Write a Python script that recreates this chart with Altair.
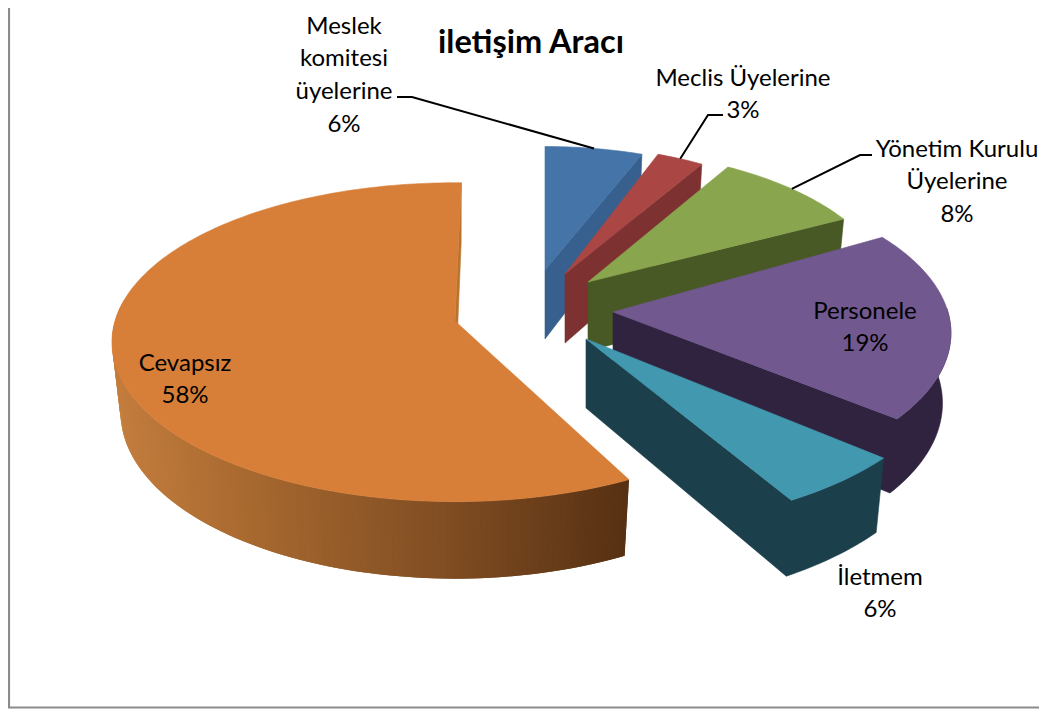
import math
import altair as alt

# ---- chart values -------------------------------------------------------
categories = ["Meslek komitesi üyelerine", "Meclis Üyelerine", "Yönetim Kurulu Üyelerine",
              "Personele", "İletmem", "Cevapsız"]
shares = [6, 3, 8, 19, 6, 58]
title_text = "iletişim Aracı"
label_lines = [["Meslek", "komitesi", "üyelerine", "6%"],
               ["Meclis Üyelerine", "3%"],
               ["Yönetim Kurulu", "Üyelerine", "8%"],
               ["Personele", "19%"],
               ["İletmem", "6%"],
               ["Cevapsız", "58%"]]

# ---- styling and layout (page pixels) -----------------------------------
top_colors = ["#4574a8", "#aa4644", "#89a54e", "#71588f", "#4298af", "#d77f39"]
side_colors = ["#37608f", "#7d3231", "#485925", "#30233f", "#1b3f4b", None]
apex = [(545, 270), (565, 274), (588, 282), (613, 312), (586, 339), (455, 321)]
stretch = [(.87, .88), (.835, .91), (.89, .94), (.985, .98), (1.06, 1.04), (1, .985)]
angle_nudge = [(0, 0), (0, 0), (-1.4, 2.3), (-2, -.6), (1.5, -1.5), (2.0, 1.2)]
label_anchor = [(344, 26.5), (743, 78.5), (957, 149.5), (865, 311.5), (880, 577.5), (185, 363.5)]
line_gap = 32.7
leader_elbows = [[(397, 97), (412, 97)], [(723, 115), (708, 115)], [(872, 155), (860, 155)]]
orange_stops = [(110, "#c47e3e"), (240, "#a96a30"), (450, "#7f4c22"), (628, "#573113")]

R, RB, K = 340, 159, 0.133
W, H = 1031, 701


def rim(i, deg):
    t = math.radians(deg)
    X, Y = math.sin(t), -math.cos(t)
    d = 1 - K * Y
    return apex[i][0] + stretch[i][0] * R * X / d, apex[i][1] + stretch[i][1] * RB * Y / d, Y


def drop(i, p):
    return apex[i][0] + (p[0] - apex[i][0]) * 0.975, p[1] + 69 + 8 * p[2]


def mix(x):
    pts = orange_stops
    x = max(pts[0][0], min(pts[-1][0], x))
    for (a, ca), (b, cb) in zip(pts, pts[1:]):
        if x <= b:
            f = (x - a) / (b - a)
            rgb = [round(int(ca[j:j + 2], 16) * (1 - f) + int(cb[j:j + 2], 16) * f) for j in (1, 3, 5)]
            return "#%02x%02x%02x" % tuple(rgb)


def poly(points, color, outline=True):
    ring = [list(p[:2]) for p in points]
    ring.append(ring[0])
    return {"type": "Feature", "geometry": {"type": "Polygon", "coordinates": [ring]},
            "properties": {"fill": color, "edge": color if outline else "transparent"}}


def line(points):
    return {"type": "Feature", "geometry": {"type": "LineString", "coordinates": [list(p) for p in points]},
            "properties": {}}


faces = []
leaders = []
start = 0.0
for i, s in enumerate(shares):
    a0, a1 = start + angle_nudge[i][0], start + s * 3.6 + angle_nudge[i][1]
    start += s * 3.6
    n = max(4, int(a1 - a0))
    angles = [a0 + (a1 - a0) * j / n for j in range(n + 1)]
    pts = [rim(i, a) for a in angles]
    ap = apex[i]
    ap_d = (ap[0], ap[1] + 69)
    side = side_colors[i]
    if i < 3:
        # back slices: only the trailing cut face shows
        faces.append(poly([ap, pts[-1], drop(i, pts[-1]), ap_d], side))
    elif side:
        # front slices: cut face and outer wall as one outline
        front = [rim(i, a) for a, p in zip(angles, pts) if a >= 88]
        faces.append(poly([p[:2] for p in front] + [ap, ap_d]
                          + [drop(i, p) for p in reversed(front)], side))
    else:
        faces.append(poly([ap, pts[-1], drop(i, pts[-1]), ap_d], "#b8742f"))
        front = [p for a, p in zip(angles, pts) if a <= 278]
        for j in range(len(front) - 1, 0, -1):
            q = front[j]
            p = front[max(0, j - 2)]
            faces.append(poly([p, q, drop(i, q), drop(i, p)],
                              mix((front[j][0] + front[j - 1][0]) / 2), outline=False))
    faces.append(poly([ap] + [p[:2] for p in pts], top_colors[i]))
    if i < 3:
        m = rim(i, (a0 + a1) / 2)
        leaders.append(line(leader_elbows[i] + [m[:2]]))

frame = [line([(9, 8), (9, 707.5), (1039, 707.5)])]

text_rows = []
for lines, (x, y) in zip(label_lines, label_anchor):
    for j, t in enumerate(lines):
        text_rows.append({"x": x, "y": y + j * line_gap, "t": t})


def features(items):
    return alt.InlineData(values={"type": "FeatureCollection", "features": items},
                          format=alt.DataFormat(property="features", type="json"))


faces_layer = alt.Chart(features(faces)).mark_geoshape(strokeWidth=0.6).encode(
    fill=alt.Fill("properties.fill:N", scale=None),
    stroke=alt.Stroke("properties.edge:N", scale=None),
)
leader_layer = alt.Chart(features(leaders)).mark_geoshape(filled=False, stroke="#000000", strokeWidth=2)
frame_layer = alt.Chart(features(frame)).mark_geoshape(filled=False, stroke="#8c8c8c", strokeWidth=2.2)
text_layer = alt.Chart(alt.Data(values=text_rows)).mark_text(
    font="Lato", fontSize=24, color="#000000", align="center", baseline="middle"
).encode(longitude="x:Q", latitude="y:Q", text="t:N")
title_layer = alt.Chart(alt.Data(values=[{"x": 531, "y": 43, "t": title_text}])).mark_text(
    font="Lato", fontSize=32.5, fontWeight="bold", color="#000000", align="center", baseline="middle"
).encode(longitude="x:Q", latitude="y:Q", text="t:N")

chart = alt.layer(frame_layer, faces_layer, leader_layer, text_layer, title_layer).project(
    type="identity", scale=1, translate=[-8, -8]
).properties(width=W, height=H, padding=0, background="#ffffff").configure_view(stroke=None)

chart.save("out.html", embed_options={"renderer": "svg", "actions": False})
